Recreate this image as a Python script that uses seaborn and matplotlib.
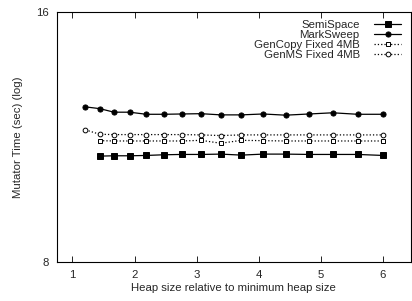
import numpy as np
import pandas as pd
import matplotlib
matplotlib.use("Agg")
import matplotlib.pyplot as plt
import seaborn as sns
from matplotlib.ticker import NullLocator

# heap size relative to minimum heap size
heap = [1.21, 1.44, 1.67, 1.92, 2.19, 2.47, 2.76, 3.07, 3.39, 3.72,
        4.07, 4.43, 4.81, 5.19, 5.59, 6.0]

semispace = [np.nan, 10.73, 10.74, 10.74, 10.75, 10.77, 10.78, 10.78, 10.79, 10.76,
             10.79, 10.79, 10.78, 10.78, 10.78, 10.75]
marksweep = [12.30, 12.24, 12.12, 12.12, 12.05, 12.05, 12.06, 12.07, 12.03, 12.03,
             12.06, 12.02, 12.06, 12.10, 12.05, 12.05]
gencopy = [np.nan, 11.20, 11.19, 11.19, 11.19, 11.19, 11.19, 11.21, 11.12, 11.21,
           11.20, 11.19, 11.19, 11.19, 11.19, 11.19]
genms = [11.54, 11.40, 11.39, 11.39, 11.39, 11.39, 11.39, 11.38, 11.36, 11.38,
         11.38, 11.38, 11.38, 11.38, 11.38, 11.38]

labels = ["SemiSpace", "MarkSweep", "GenCopy Fixed 4MB", "GenMS Fixed 4MB"]

sns.set_style("ticks")
plt.rcParams["font.family"] = ["Liberation Sans", "DejaVu Sans"]

fig = plt.figure(figsize=(4.12, 3.01), dpi=100)
ax = fig.add_axes([0.138, 0.1296, 0.8596, 0.8304])

styles = [
    (semispace, "-", "s", "black", 3.9),
    (marksweep, "-", "o", "black", 3.7),
    (gencopy, ":", "s", "white", 3.4),
    (genms, ":", "o", "white", 3.4),
]
for lab, (vals, ls, mk, fc, ms) in zip(labels, styles):
    df = pd.DataFrame({"heap": heap, "time": vals}).dropna()
    sns.lineplot(data=df, x="heap", y="time", ax=ax, color="black", lw=0.9,
                 linestyle=ls, marker=mk, markersize=ms, markerfacecolor=fc,
                 markeredgecolor="black", markeredgewidth=0.7, label=lab)

ax.set_yscale("log", base=2)
ax.set_ylim(8, 16)
ax.set_yticks([8, 16])
ax.set_yticklabels(["8", "16"])
ax.yaxis.set_minor_locator(NullLocator())
ax.set_xlim(0.75, 6.45)
ax.set_xticks([1, 2, 3, 4, 5, 6])

ax.tick_params(direction="in", top=True, right=True, labelsize=8.2,
               length=4, width=0.6, pad=6, color="black")
for sp in ax.spines.values():
    sp.set_linewidth(0.8)
    sp.set_color("black")

ax.set_xlabel("Heap size relative to minimum heap size", fontsize=8.2, labelpad=2)
ax.set_ylabel("Mutator Time (sec) (log)", fontsize=8.2, labelpad=9)

ax.legend(loc="upper right", markerfirst=False, frameon=False, fontsize=8.2,
          handlelength=2.3, handletextpad=1.3, labelspacing=0.0,
          borderaxespad=0.2, bbox_to_anchor=(0.99, 0.995))
for t in ax.get_legend().get_texts():
    t.set_ha("right")

fig.savefig("out.png", dpi=100)
